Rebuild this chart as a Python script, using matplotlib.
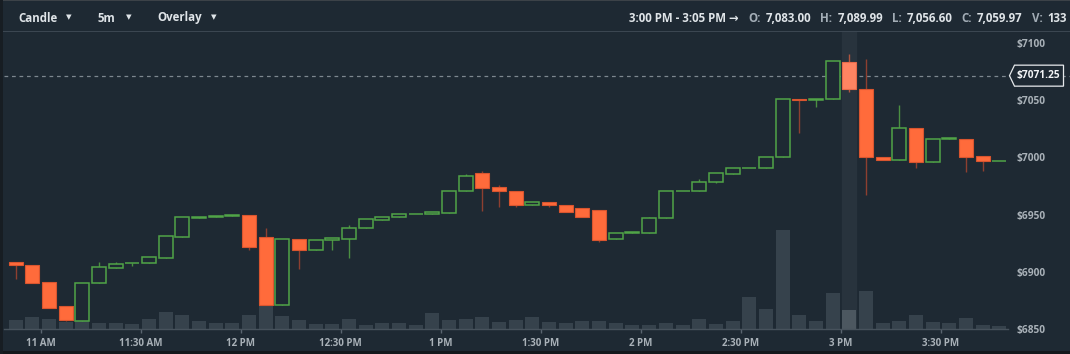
import matplotlib
matplotlib.use("Agg")
import matplotlib.pyplot as plt
from matplotlib.patches import Polygon, Rectangle
import numpy as np

plt.rcParams['font.family'] = ['Open Sans', 'DejaVu Sans']

# ---------------- data ----------------
opens = [6909, 6906, 6891, 6870, 6857.5, 6890, 6903.5, 6907.5, 6907.5, 6912.5,
         6930.5, 6947.5, 6948, 6949, 6949.5, 6930.5, 6871.5, 6929, 6919.5, 6928,
         6929, 6938.5, 6945.5, 6948, 6950.5, 6951, 6951.5, 6970.5, 6986, 6974,
         6971, 6958.5, 6961, 6958.5, 6956, 6954.5, 6928.5, 6934, 6934, 6947,
         6970.5, 6970.5, 6978.5, 6985.5, 6990.5, 6990.5, 7000, 7050.5, 7050, 7050.5,
         7083, 7060, 7000, 6997.5, 7026, 6995.5, 7016, 7016, 7001, 6996.5]
highs = [6909, 6906, 6891, 6870, 6890.5, 6909, 6908.5, 6908, 6913, 6931,
         6948, 6948, 6949, 6949.5, 6950, 6938.5, 6929, 6929, 6928, 6930,
         6941, 6946, 6948, 6950.5, 6951, 6952, 6970.5, 6985.5, 6988, 6976,
         6971, 6961, 6961, 6958.5, 6956, 6954.5, 6934, 6934.5, 6948, 6970.5,
         6971, 6981.5, 6986, 6990.5, 6991, 7000, 7050.5, 7050.5, 7050.5, 7084,
         7089.99, 7086, 7000, 7045.5, 7026, 7016, 7016.5, 7016, 7001, 6997]
lows = [6894, 6890, 6869, 6857, 6857, 6890, 6903.5, 6905.5, 6907.5, 6912.5,
        6930.5, 6947.5, 6948, 6949, 6919, 6871, 6871, 6903, 6919.5, 6919,
        6912, 6938.5, 6945.5, 6948, 6950.5, 6951, 6951.5, 6970.5, 6953, 6956.5,
        6956.5, 6958.5, 6956.5, 6952.5, 6948, 6926.5, 6928.5, 6934, 6934, 6947,
        6970.5, 6970.5, 6977.5, 6985.5, 6990.5, 6990.5, 7000, 7021, 7044, 7050.5,
        7056.6, 6967, 6997.5, 6997.5, 6991, 6995.5, 7016, 6987, 6988.5, 6996.5]
closes = [6906, 6890, 6869, 6858, 6890.5, 6904, 6907, 6908, 6913, 6931,
          6948, 6948, 6949, 6949.5, 6922, 6871.5, 6929, 6919.5, 6928, 6930,
          6938.5, 6946, 6948, 6950.5, 6951, 6952, 6970.5, 6984, 6973.5, 6970.5,
          6958.5, 6961, 6958, 6952.5, 6948, 6927.5, 6934, 6934.5, 6947, 6970.5,
          6971, 6978.5, 6986, 6990.5, 6991, 7000, 7050.5, 7050, 7050.5, 7084,
          7059.97, 7000, 6997.5, 7026, 6995.5, 7016, 7016.5, 7000.5, 6996.5, 6997]
volumes = [61, 83, 70, 47, 54, 43, 43, 34, 72, 115,
           97, 54, 45, 45, 95, 162, 90, 63, 38, 36,
           70, 32, 45, 41, 29, 113, 65, 68, 81, 52,
           63, 83, 47, 41, 56, 59, 43, 29, 29, 43,
           29, 68, 36, 59, 218, 140, 668, 99, 54, 245,
           133, 261, 41, 56, 95, 52, 41, 79, 27, 20]
# minutes after 10:50 AM at which each 5-minute candle starts
start_minutes = list(range(0, 300, 5))
tick_minutes = [10, 40, 70, 100, 130, 160, 190, 220, 250, 280]
tick_labels = ["11 AM", "11:30 AM", "12 PM", "12:30 PM", "1 PM", "1:30 PM",
               "2 PM", "2:30 PM", "3 PM", "3:30 PM"]
price_ticks = [6850, 6900, 6950, 7000, 7050, 7100]
last_price = 7071.25
selected = 50
header_range = "3:00 PM - 3:05 PM \u2192"
menu_items = ["Candle", "5m", "Overlay"]

# ---------------- style ----------------
W, H = 1070, 354
BG = "#1e2933"
RED = "#ff6b3b"
RED_EDGE = "#d9552f"
RED_HI = "#ff8462"
RED_WICK = "#8e3f30"
GREEN = "#50a447"
GREEN_WICK = "#4b8f42"
VOL = "#36424c"
VOL_HI = "#4c5760"
GRID = "#47525c"
TXT = "#a9b1b8"

def fx(x):
    return x / W

def fy(y):
    return 1 - y / H

fig = plt.figure(figsize=(W / 100, H / 100), dpi=100, facecolor=BG)

ax_left, ax_right, ax_top, ax_bot = 4, 1008, 32, 329.3
rect = [fx(ax_left), fy(ax_bot), fx(ax_right - ax_left), (ax_bot - ax_top) / H]

ax_vol = fig.add_axes(rect)
ax = fig.add_axes(rect)
ax_vol.set_facecolor(BG)
ax.set_facecolor("none")

x = np.array(start_minutes) + 2.5
px_per_min = 900.2 / 270.0
xlim = (10 - (40.7 - ax_left) / px_per_min, 10 + (ax_right - 40.7) / px_per_min)
ylim = (6850, 7100 + (42.7 - ax_top) / (286.6 / 250))
width = 5 * 0.84

for a in (ax, ax_vol):
    a.set_xlim(*xlim)
    for s in a.spines.values():
        s.set_visible(False)

# highlight column
ax_vol.axvspan(x[selected] - width / 2, x[selected] + width / 2, ymin=0, ymax=1.004,
               color="#28333d", zorder=0, clip_on=False)

# volume
vol_scale = 6.75 * (ax_bot - ax_top)
ax_vol.set_ylim(0, vol_scale)
vcolors = [VOL_HI if i == selected else VOL for i in range(len(volumes))]
ax_vol.bar(x, volumes, width=width, color=vcolors, zorder=2)
ax_vol.set_xticks([])
ax_vol.set_yticks([])

# candles
ax.set_ylim(*ylim)
o = np.array(opens); c = np.array(closes); hi = np.array(highs); lo = np.array(lows)
up = c >= o
for i in range(len(x)):
    if up[i]:
        ax.vlines(x[i], lo[i], hi[i], color=GREEN_WICK, lw=1.0, zorder=2)
        ax.bar(x[i], c[i] - o[i], bottom=o[i], width=width, facecolor=BG,
               edgecolor=GREEN, lw=1.1, zorder=3)
    else:
        face = RED_HI if i == selected else RED
        wick = "#b0553f" if i == selected else RED_WICK
        ax.vlines(x[i], lo[i], hi[i], color=wick, lw=1.0, zorder=2)
        ax.bar(x[i], o[i] - c[i], bottom=c[i], width=width, facecolor=face,
               edgecolor=RED_EDGE if i != selected else "#e86a4a", lw=0.8, zorder=3)

# last price dashed line
ax.axhline(last_price, xmin=0, xmax=(W - ax_left) / (ax_right - ax_left),
           color="#7d878f", lw=0.9, ls=(0, (3, 3)), clip_on=False, zorder=1)

# x axis
ax.spines['bottom'].set_visible(True)
ax.spines['bottom'].set_color(GRID)
ax.spines['bottom'].set_linewidth(1.0)
ax.set_xticks(tick_minutes)
ax.set_xticklabels(tick_labels)
ax.tick_params(axis='x', colors="#5a6570", length=3, width=1, pad=3,
               labelcolor=TXT, labelsize=7)
for t in ax.get_xticklabels():
    t.set_fontweight('bold')

# y axis right
ax.yaxis.tick_right()
ax.set_yticks(price_ticks)
ax.set_yticklabels(["$%d" % p for p in price_ticks])
ax.tick_params(axis='y', length=0, pad=6, labelcolor=TXT, labelsize=7.3)
for t in ax.get_yticklabels():
    t.set_fontweight('bold')

# last price tag
ytag = ax_bot - (last_price - ylim[0]) / (ylim[1] - ylim[0]) * (ax_bot - ax_top)
tag = Polygon([(fx(1009.5), fy(ytag)), (fx(1014.5), fy(ytag - 10.5)),
               (fx(1063.5), fy(ytag - 10.5)), (fx(1063.5), fy(ytag + 10.5)),
               (fx(1014.5), fy(ytag + 10.5))], closed=True,
              transform=fig.transFigure, facecolor=BG, edgecolor="#e6e9ec", lw=0.9,
              zorder=5)
fig.add_artist(tag)
fig.text(fx(1016.5), fy(ytag), "$%.2f" % last_price, color="#f2f4f6", fontsize=7.3,
         fontweight='bold', ha='left', va='center', zorder=6)

# frame strips
fig.add_artist(Rectangle((0, fy(1.2)), 1, 1.2 / H, transform=fig.transFigure,
                         color="#3c4248", lw=0))
fig.add_artist(Rectangle((0, fy(32)), 1, 1.2 / H, transform=fig.transFigure,
                         color="#3b4651", lw=0))
fig.add_artist(Rectangle((0, 0), 1, 3 / H, transform=fig.transFigure,
                         color="#14181c", lw=0))
fig.add_artist(Rectangle((0, 0), 2.5 / W, 1, transform=fig.transFigure,
                         color="#171d23", lw=0))

# header menu
HDR = "#dfe4e8"
LAB = "#a3adb6"
yh = fy(18)
for label, xl, xa in zip(menu_items, [18, 98, 157], [66, 126, 211]):
    fig.text(fx(xl), yh, label, color=HDR, fontsize=8.3, fontweight='bold',
             ha='left', va='center')
    fig.text(fx(xa), fy(17), "\u25BC", color=HDR, fontsize=5.2,
             family=['DejaVu Sans'], ha='left', va='center')

# header OHLCV, laid out right-to-left
pieces = [(header_range, HDR, 10),
          ("O:", LAB, 5), (format(opens[selected], ",.2f"), HDR, 9),
          ("H:", LAB, 5), (format(highs[selected], ",.2f"), HDR, 9),
          ("L:", LAB, 5), (format(lows[selected], ",.2f"), HDR, 9),
          ("C:", LAB, 5), (format(closes[selected], ",.2f"), HDR, 9),
          ("V:", LAB, 5), ("%d" % volumes[selected], HDR, 0)]
renderer = fig.canvas.get_renderer()
fs = 8.3
texts = [fig.text(0, yh, s, color=col, fontsize=fs, fontweight='bold',
                  ha='left', va='center') for s, col, g in pieces]
total = sum(t.get_window_extent(renderer).width for t in texts) + \
    sum(g for s, col, g in pieces)
target = 1067 - 624
if total > target:
    scale_f = (target - sum(g for s, col, g in pieces)) / (total - sum(g for s, col, g in pieces))
    for t in texts:
        t.set_fontsize(fs * scale_f)
xr = 1067.0
for t, (s, col, g) in zip(reversed(texts), reversed(pieces)):
    w = t.get_window_extent(renderer).width
    xr -= g
    t.set_x(fx(xr - w))
    xr -= w

fig.savefig("out.png", dpi=100, facecolor=BG)
